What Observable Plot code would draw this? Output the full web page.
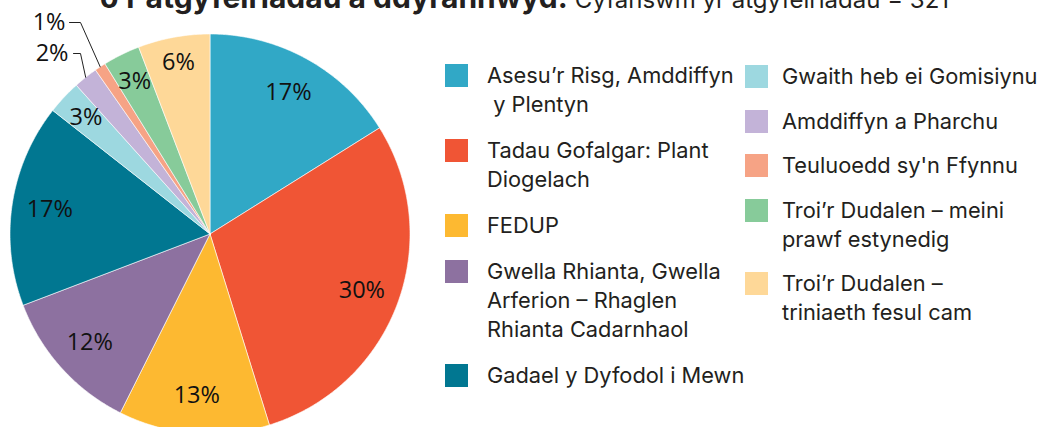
<!DOCTYPE html>
<html><head><meta charset="utf-8">
<script src="https://cdn.jsdelivr.net/npm/d3@7"></script>
<script src="https://cdn.jsdelivr.net/npm/@observablehq/plot@0.6"></script>
<style>
body{margin:0;background:#fff;}
#wrap{position:relative;width:1043px;height:427px;overflow:hidden;font-family:Inter,"Noto Sans",sans-serif;color:#231f20;}
#chart{position:absolute;left:0;top:0;}
#title{position:absolute;left:100px;top:-19.9px;white-space:nowrap;line-height:34px;}
#title .b{font-weight:700;font-size:30px;}
#title .r{font-weight:400;font-size:24px;}
.item{position:absolute;white-space:pre;font-size:21.8px;line-height:29px;font-weight:400;}
.sw{position:absolute;width:23px;height:23px;}
</style></head><body>
<div id="wrap"><div id="chart"></div><div id="title"></div><div id="legend"></div></div>
<script>
const categories = [
  "Asesu’r Risg, Amddiffyn y Plentyn",
  "Tadau Gofalgar: Plant Diogelach",
  "FEDUP",
  "Gwella Rhianta, Gwella Arferion – Rhaglen Rhianta Cadarnhaol",
  "Gadael y Dyfodol i Mewn",
  "Gwaith heb ei Gomisiynu",
  "Amddiffyn a Pharchu",
  "Teuluoedd sy'n Ffynnu",
  "Troi’r Dudalen – meini prawf estynedig",
  "Troi’r Dudalen – triniaeth fesul cam"
];
const legendLabels = [
  "Asesu’r Risg, Amddiffyn\n y Plentyn",
  "Tadau Gofalgar: Plant\nDiogelach",
  "FEDUP",
  "Gwella Rhianta, Gwella\nArferion – Rhaglen\nRhianta Cadarnhaol",
  "Gadael y Dyfodol i Mewn",
  "Gwaith heb ei Gomisiynu",
  "Amddiffyn a Pharchu",
  "Teuluoedd sy'n Ffynnu",
  "Troi’r Dudalen – meini\nprawf estynedig",
  "Troi’r Dudalen –\ntriniaeth fesul cam"
];
const legendColumn = [0,0,0,0,0,1,1,1,1,1];
const shares = [16.1, 29.1, 12.2, 11.8, 16.4, 2.75, 1.95, 0.9, 3.0, 5.8];
const pctLabels = ["17%","30%","13%","12%","17%","3%","2%","1%","3%","6%"];
const colors = ["#31a8c6","#f05535","#fdb931","#8d71a0","#017791","#9dd8e0","#c3b3d8","#f6a385","#87cb9a","#fed898"];
const titleBold = "o’r atgyfeiriadau a ddyrannwyd: ";
const titleRegular = "Cyfanswm yr atgyfeiriadau = 321";

// geometry of slices from the data
const total = d3.sum(shares);
const slices = [];
let cum = 0;
shares.forEach((s, i) => {
  const a0 = cum / total * 2 * Math.PI;
  cum += s;
  const a1 = cum / total * 2 * Math.PI;
  slices.push({i, cat: categories[i], a0, a1, mid: (a0 + a1) / 2, share: s, label: pctLabels[i]});
});
const poly = [];
for (const sl of slices) {
  poly.push({x: 0, y: 0, cat: sl.cat});
  const n = Math.max(2, Math.ceil((sl.a1 - sl.a0) / (Math.PI / 360)));
  for (let k = 0; k <= n; k++) {
    const a = sl.a0 + (sl.a1 - sl.a0) * k / n;
    poly.push({x: Math.sin(a), y: Math.cos(a), cat: sl.cat});
  }
  poly.push({x: 0, y: 0, cat: sl.cat});
}
const inside = slices.filter(d => d.share >= 2.5).map(d => {
  const r = d.share < 4 ? 0.85 : d.share < 10 ? 0.87 : 0.81;
  return {x: r * Math.sin(d.mid), y: r * Math.cos(d.mid), text: d.label};
});
const outsideSl = slices.filter(d => d.share < 2.5).reverse();
const leaders = [], outside = [];
outsideSl.forEach((d, k) => {
  const ey = 1.0575 - 0.155 * k;
  leaders.push({x: Math.sin(d.mid), y: Math.cos(d.mid), cat: d.cat});
  leaders.push({x: -0.6475, y: ey, cat: d.cat});
  leaders.push({x: -0.7025 + 0.02 * k, y: ey, cat: d.cat});
  outside.push({x: -0.7225 + 0.015 * k, y: ey, text: d.label});
});

const chart = Plot.plot({
  width: 1043, height: 427, margin: 0,
  style: {background: "transparent", overflow: "hidden"},
  x: {domain: [-1, 1], range: [9.5, 409.5], axis: null},
  y: {domain: [-1, 1], range: [433.5, 33.5], axis: null},
  color: {domain: categories, range: colors},
  marks: [
    Plot.line(poly, {x: "x", y: "y", z: "cat", fill: "cat", stroke: "#ffffff", strokeWidth: 0.6, curve: "linear"}),
    Plot.text(inside, {x: "x", y: "y", text: "text", fontSize: 23.5, fontFamily: "Open Sans", fill: "#111"}),
    Plot.line(leaders, {x: "x", y: "y", z: "cat", stroke: "#222", strokeWidth: 1}),
    Plot.text(outside, {x: "x", y: "y", text: "text", textAnchor: "end", fontSize: 23.5, fontFamily: "Open Sans", fill: "#111"})
  ]
});
document.getElementById("chart").appendChild(chart);

// title
const t = document.getElementById("title");
t.innerHTML = `<span class="b"></span><span class="r"></span>`;
t.querySelector(".b").textContent = titleBold;
t.querySelector(".r").textContent = titleRegular;

// legend
const legend = document.getElementById("legend");
const colX = [[445, 487], [745, 782]];
const colY = [64, 65];
legendLabels.forEach((lab, i) => {
  const c = legendColumn[i];
  const lines = lab.split("\n").length;
  const top = colY[c];
  const sw = document.createElement("div");
  sw.className = "sw";
  sw.style.left = colX[c][0] + "px";
  sw.style.top = top + "px";
  sw.style.background = colors[i];
  legend.appendChild(sw);
  const tx = document.createElement("div");
  tx.className = "item";
  tx.style.left = colX[c][1] + "px";
  tx.style.top = (top - 3) + "px";
  tx.textContent = lab;
  legend.appendChild(tx);
  colY[c] = top + lines * 29 + (c === 0 ? 17 : 15.5);
});
</script>
</body></html>
